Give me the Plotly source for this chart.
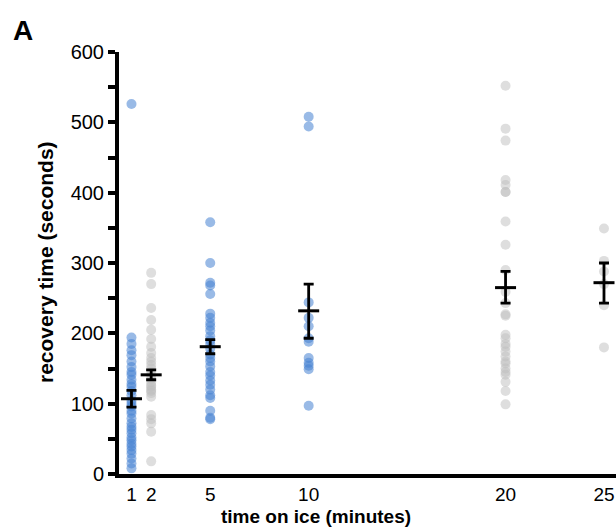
import plotly.graph_objects as go

# ---- data ----
t1 = [526, 194, 185, 176, 169, 160, 152, 145, 141, 134, 128, 124, 118, 112, 104, 100,
      96, 90, 86, 79, 72, 67, 63, 58, 52, 48, 43, 39, 34, 29, 22, 15, 8]
t2 = [286, 270, 236, 219, 205, 192, 181, 172, 165, 160, 155, 150, 145, 140, 135, 130,
      126, 124, 120, 118, 115, 110, 84, 78, 72, 60, 18]
t5 = [358, 300, 272, 268, 256, 228, 222, 215, 210, 204, 196, 190, 185, 178, 170, 165,
      160, 153, 145, 140, 133, 127, 120, 112, 108, 90, 80, 78]
t10 = [508, 494, 244, 222, 210, 193, 188, 165, 158, 154, 149, 97]
t20 = [552, 491, 474, 418, 411, 401, 401, 359, 326, 290, 259, 243, 227, 225, 198, 193,
       185, 181, 174, 167, 160, 157, 150, 145, 141, 131, 118, 99]
t25 = [349, 303, 288, 270, 240, 180]

blue_groups = {1: t1, 5: t5, 10: t10}
gray_groups = {2: t2, 20: t20, 25: t25}

minutes = [1, 2, 5, 10, 20, 25]
means = [107, 141, 181, 232, 265, 272]
upper = [119, 148, 191, 270, 288, 300]
lower = [95, 134, 171, 193, 243, 243]

x_ticks = [1, 2, 5, 10, 20, 25]

# ---- figure ----
fig = go.Figure()

bx, by = [], []
for k, vals in blue_groups.items():
    bx += [k] * len(vals)
    by += vals
gx, gy = [], []
for k, vals in gray_groups.items():
    gx += [k] * len(vals)
    gy += vals

fig.add_trace(go.Scatter(x=bx, y=by, mode="markers",
                         marker=dict(size=10, color="rgba(70,130,210,0.55)", line=dict(width=0)),
                         showlegend=False, cliponaxis=False))
fig.add_trace(go.Scatter(x=gx, y=gy, mode="markers",
                         marker=dict(size=10, color="rgba(190,190,190,0.5)", line=dict(width=0)),
                         showlegend=False, cliponaxis=False))

fig.add_trace(go.Scatter(
    x=minutes, y=means, mode="markers",
    marker=dict(symbol="line-ew", size=15, color="black", line=dict(width=3, color="black")),
    error_y=dict(type="data", symmetric=False,
                 array=[u - m for u, m in zip(upper, means)],
                 arrayminus=[m - l for m, l in zip(means, lower)],
                 color="black", thickness=2.8, width=5),
    showlegend=False, cliponaxis=False))

font_family = "Liberation Sans, Arial, sans-serif"

L, T, B = 119, 52, 54
W, H = 616, 528
pw, ph = W - L, H - T - B
y0 = H - B  # pixel row of value 0


def px(xp):
    return (xp - L) / pw


def py(yp):
    return (y0 - yp) / ph


fig.update_layout(
    width=W, height=H,
    margin=dict(l=L, r=0, t=T, b=B),
    paper_bgcolor="white", plot_bgcolor="white",
    font=dict(family=font_family, size=20, color="black"),
    xaxis=dict(range=[0.366, 25.61], tickvals=x_ticks, ticktext=[str(v) for v in x_ticks],
               showgrid=False, zeroline=False, showline=True, linecolor="black", linewidth=4,
               ticks="", ticklabelstandoff=0, tickfont=dict(size=19)),
    yaxis=dict(range=[0, 600], tickvals=[0, 100, 200, 300, 400, 500, 600],
               showgrid=False, zeroline=False, showline=True, linecolor="black", linewidth=4,
               ticks="outside", ticklen=7, tickwidth=3.5, tickcolor="black",
               minor=dict(tickvals=[50, 150, 250, 350, 450, 550], ticks="outside",
                          ticklen=7, tickwidth=3.5, tickcolor="black"),
               ticklabelstandoff=0, tickfont=dict(size=20)),
    annotations=[
        dict(text="<b>A</b>", xref="paper", yref="paper", x=px(23), y=py(30),
             showarrow=False, font=dict(size=28, family=font_family), xanchor="center", yanchor="middle"),
        dict(text="<b>recovery time (seconds)</b>", xref="paper", yref="paper",
             x=px(45), y=py(262), textangle=-90, showarrow=False,
             font=dict(size=21, family=font_family), xanchor="center", yanchor="middle"),
        dict(text="<b>time on ice (minutes)</b>", xref="paper", yref="paper",
             x=px(316), y=py(529), showarrow=False,
             font=dict(size=19, family=font_family), xanchor="center", yanchor="bottom"),
    ],
)

fig.write_html("out.html", config={"displayModeBar": False},
               post_script="document.body.style.margin='0';")
